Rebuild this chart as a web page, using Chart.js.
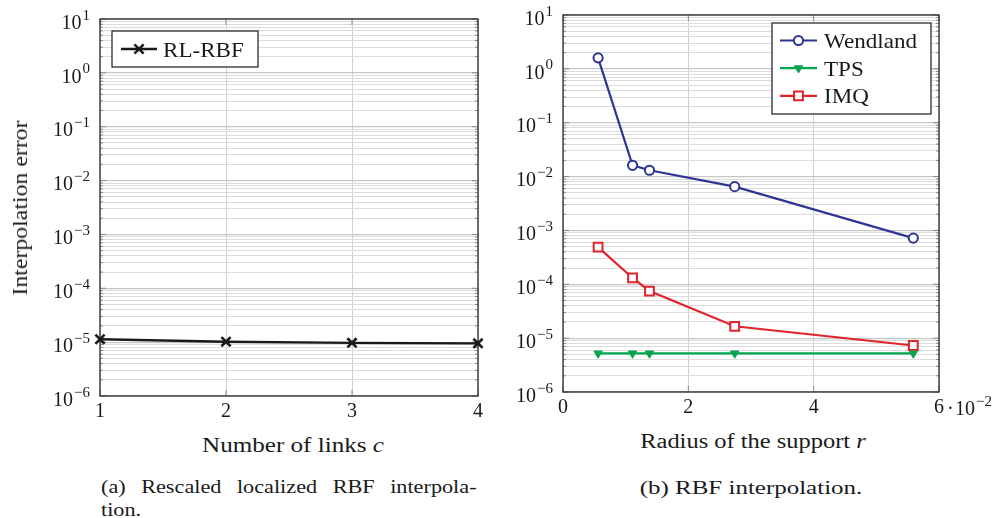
<!DOCTYPE html>
<html>
<head>
<meta charset="utf-8">
<script src="https://cdn.jsdelivr.net/npm/chart.js@4.4.1/dist/chart.umd.min.js"></script>
<style>
body { margin: 0; background: #fff; width: 999px; height: 518px; overflow: hidden; position: relative;
       font-family: "Liberation Serif", serif; color: #1a1a1a; }
.box { position: absolute; top: 0; }
.lbl { position: absolute; font-size: 20px; line-height: 1; white-space: nowrap; transform: translate(-50%, -50%); }
.cap { position: absolute; font-size: 19px; line-height: 1; white-space: nowrap; transform-origin: 0 0; transform: scaleX(1.17); }
</style>
</head>
<body>
<div class="box" style="left:0;width:500px;height:420px"><canvas id="leftChart" width="500" height="420"></canvas></div>
<div class="box" style="left:500px;width:499px;height:420px"><canvas id="rightChart" width="499" height="420"></canvas></div>

<div class="lbl" data-w="175" data-rot="1" style="left:20px;top:208px">Interpolation error</div>
<div class="lbl" data-w="182" style="left:293px;top:445px">Number of links <i>c</i></div>
<div class="lbl" data-w="225" style="left:753px;top:441px">Radius of the support <i>r</i></div>
<div class="cap" style="left:101px;top:477px;width:321px;text-align:justify;text-align-last:justify">(a) Rescaled localized RBF interpola-</div>
<div class="cap" style="left:101px;top:500px">tion.</div>
<div class="lbl" data-w="222" style="left:751px;top:487px;font-size:19px">(b) RBF interpolation.</div>

<script>
// values
var linksC = [1, 2, 3, 4];
var rlRbfError = [1.13e-5, 1.02e-5, 0.97e-5, 0.95e-5];

var radiusR = [0.0056, 0.0111, 0.0138, 0.0274, 0.0559];
var wendlandError = [1.6, 1.62e-2, 1.31e-2, 6.5e-3, 7.2e-4];
var tpsError = [5.2e-6, 5.2e-6, 5.2e-6, 5.2e-6, 5.2e-6];
var imqError = [4.9e-4, 1.31e-4, 7.5e-5, 1.66e-5, 7.3e-6];

var leftXTicks = [1, 2, 3, 4];
var rightXTicks = [0, 0.02, 0.04, 0.06];
var yExponents = [-6, -5, -4, -3, -2, -1, 0, 1];

var FONT = '"Liberation Serif", "DejaVu Serif", serif';
var INK = '#1a1a1a';

function isDecade(v) {
    var l = Math.log10(v);
    return Math.abs(l - Math.round(l)) < 1e-9;
}
function expText(e) {
    return e < 0 ? '\u2212' + (-e) : String(e);
}

// major + minor ticks for the log axis (1..9 in every decade)
var yTickValues = [];
yExponents.forEach(function (e, i) {
    if (i === yExponents.length - 1) { yTickValues.push(Math.pow(10, e)); return; }
    for (var k = 1; k <= 9; k++) yTickValues.push(k * Math.pow(10, e));
});

function pts(xs, ys) {
    return xs.map(function (x, i) { return { x: x, y: ys[i] }; });
}

// "10" with a raised exponent, right edge at x, main baseline at y
function drawPow(ctx, x, y, exp, alignLeft) {
    ctx.font = '15px ' + FONT;
    var sup = expText(exp), sw = ctx.measureText(sup).width;
    ctx.font = '20px ' + FONT;
    var bw = ctx.measureText('10').width;
    var left = alignLeft ? x : x - sw - bw - 1;
    ctx.textAlign = 'left';
    ctx.textBaseline = 'alphabetic';
    ctx.fillText('10', left, y);
    ctx.font = '15px ' + FONT;
    ctx.fillText(sup, left + bw + 1, y - 9.2);
}

function yScale(width) {
    return {
        type: 'logarithmic',
        min: Math.pow(10, yExponents[0]),
        max: Math.pow(10, yExponents[yExponents.length - 1]),
        afterBuildTicks: function (s) { s.ticks = yTickValues.map(function (v) { return { value: v }; }); },
        afterFit: function (s) { s.width = width; },
        border: { display: false },
        grid: {
            drawTicks: false,
            color: function (c) { return c.tick && isDecade(c.tick.value) ? '#c6c6c6' : '#dcdcdc'; },
            lineWidth: function (c) { return c.tick && isDecade(c.tick.value) ? 1.2 : 1; }
        },
        ticks: { display: false, autoSkip: false }
    };
}

function xScale(min, max, tickVals, height, fmt) {
    return {
        type: 'linear',
        min: min,
        max: max,
        afterBuildTicks: function (s) { s.ticks = tickVals.map(function (v) { return { value: v }; }); },
        afterFit: function (s) { s.height = height; },
        border: { display: false },
        grid: { drawTicks: false, color: '#d2d2d2' },
        ticks: { padding: 4, color: INK, font: { family: FONT, size: 20 }, callback: fmt }
    };
}

// frame round the plot and the little inward tick marks
var framePlugin = {
    id: 'frame',
    beforeDatasetsDraw: function (chart) {
        var a = chart.chartArea, ctx = chart.ctx, ys = chart.scales.y, xs = chart.scales.x;
        ctx.save();
        ctx.strokeStyle = '#8a8a8a';
        ctx.lineWidth = 1;
        ys.ticks.forEach(function (t) {
            var p = ys.getPixelForValue(t.value), len = isDecade(t.value) ? 6 : 3;
            ctx.beginPath();
            ctx.moveTo(a.left, p); ctx.lineTo(a.left + len, p);
            ctx.moveTo(a.right, p); ctx.lineTo(a.right - len, p);
            ctx.stroke();
        });
        xs.ticks.forEach(function (t) {
            var p = xs.getPixelForValue(t.value);
            ctx.beginPath();
            ctx.moveTo(p, a.bottom); ctx.lineTo(p, a.bottom - 6);
            ctx.moveTo(p, a.top); ctx.lineTo(p, a.top + 6);
            ctx.stroke();
        });
        ctx.strokeStyle = '#2a2a2a';
        ctx.lineWidth = 1.3;
        ctx.strokeRect(a.left, a.top, a.width, a.height);
        ctx.restore();
    }
};

// y tick labels 10^n, and the "·10^-2" multiplier on the x axis
var powLabels = {
    id: 'powLabels',
    afterDraw: function (chart, args, o) {
        var ctx = chart.ctx, ys = chart.scales.y, xs = chart.scales.x, a = chart.chartArea;
        ctx.save();
        ctx.fillStyle = INK;
        ys.ticks.forEach(function (t) {
            if (!isDecade(t.value)) return;
            drawPow(ctx, a.left - 10, ys.getPixelForValue(t.value) + 9.7, Math.round(Math.log10(t.value)), false);
        });
        if (o.multExp) {
            ctx.font = '20px ' + FONT;
            var x0 = xs.getPixelForValue(o.at) + ctx.measureText(o.after).width / 2 + 3;
            var base = xs.top + 23;
            ctx.textAlign = 'left';
            ctx.textBaseline = 'alphabetic';
            ctx.fillText('\u00B7', x0, base);
            drawPow(ctx, x0 + 8, base, o.multExp, true);
        }
        ctx.restore();
    }
};

// pgfplots style legend: boxed, line with marker, inside the plot
var boxLegend = {
    id: 'boxLegend',
    afterDraw: function (chart, args, o) {
        var a = chart.chartArea, ctx = chart.ctx;
        var bx = o.right ? a.right - o.dx - o.w : a.left + o.dx;
        var by = a.top + o.dy;
        ctx.save();
        ctx.fillStyle = '#fff';
        ctx.fillRect(bx, by, o.w, o.h);
        ctx.strokeStyle = INK;
        ctx.lineWidth = 1.2;
        ctx.strokeRect(bx, by, o.w, o.h);
        chart.data.datasets.forEach(function (ds, i) {
            var cy = by + o.row0 + i * o.rowH;
            ctx.strokeStyle = ds.borderColor;
            ctx.lineWidth = ds.borderWidth;
            ctx.beginPath();
            ctx.moveTo(bx + o.lineX0, cy);
            ctx.lineTo(bx + o.lineX1, cy);
            ctx.stroke();
            ctx.fillStyle = ds.pointBackgroundColor;
            ctx.strokeStyle = ds.pointBorderColor;
            ctx.lineWidth = ds.pointBorderWidth;
            Chart.helpers.drawPoint(ctx, {
                pointStyle: ds.pointStyle, radius: ds.pointRadius,
                rotation: ds.pointRotation || 0, borderWidth: ds.pointBorderWidth
            }, bx + (o.lineX0 + o.lineX1) / 2, cy);
            ctx.save();
            ctx.fillStyle = INK;
            ctx.font = '21px ' + FONT;
            ctx.textAlign = 'left';
            ctx.textBaseline = 'alphabetic';
            ctx.translate(bx + o.textX, cy + 7.5);
            ctx.scale(1.1, 1);
            ctx.fillText(ds.label, 0, 0);
            ctx.restore();
        });
        ctx.restore();
    }
};

var lc = document.getElementById('leftChart').getContext('2d');
var leftChart = new Chart(lc, {
    type: 'line',
    data: {
        datasets: [{
            label: 'RL-RBF',
            data: pts(linksC, rlRbfError),
            borderColor: INK,
            borderWidth: 2.4,
            pointStyle: 'crossRot',
            pointRadius: 6.5,
            pointBorderWidth: 2.6,
            pointBorderColor: INK,
            pointBackgroundColor: INK,
            clip: false
        }]
    },
    options: {
        responsive: false,
        animation: false,
        layout: { padding: { top: 19, right: 22, bottom: 0, left: 0 } },
        scales: {
            x: xScale(1, 4, leftXTicks, 24, function (v) { return String(v); }),
            y: yScale(100)
        },
        plugins: {
            legend: { display: false },
            tooltip: { enabled: false },
            boxLegend: { right: false, dx: 12, dy: 12, w: 146, h: 36, row0: 18, rowH: 0,
                         lineX0: 9, lineX1: 45, textX: 51 },
            powLabels: { multExp: 0 }
        }
    },
    plugins: [framePlugin, boxLegend, powLabels]
});

var rc = document.getElementById('rightChart').getContext('2d');
var rightChart = new Chart(rc, {
    type: 'line',
    data: {
        datasets: [{
            label: 'Wendland',
            data: pts(radiusR, wendlandError),
            borderColor: '#2e3592',
            borderWidth: 2.2,
            pointStyle: 'circle',
            pointRadius: 4.6,
            pointBorderWidth: 2,
            pointBorderColor: '#2e3592',
            pointBackgroundColor: '#fff',
            clip: false
        }, {
            label: 'TPS',
            data: pts(radiusR, tpsError),
            borderColor: '#05a550',
            borderWidth: 2.2,
            pointStyle: 'triangle',
            pointRotation: 180,
            pointRadius: 4.8,
            pointBorderWidth: 1,
            pointBorderColor: '#05a550',
            pointBackgroundColor: '#05a550',
            clip: false
        }, {
            label: 'IMQ',
            data: pts(radiusR, imqError),
            borderColor: '#e1232b',
            borderWidth: 2.2,
            pointStyle: 'rect',
            pointRadius: 6.2,
            pointBorderWidth: 2,
            pointBorderColor: '#e1232b',
            pointBackgroundColor: '#fff',
            clip: false
        }]
    },
    options: {
        responsive: false,
        animation: false,
        layout: { padding: { top: 15, right: 60, bottom: 0, left: 0 } },
        scales: {
            x: xScale(0, 0.06, rightXTicks, 28, function (v) { return String(Math.round(v * 100)); }),
            y: yScale(63)
        },
        plugins: {
            legend: { display: false },
            tooltip: { enabled: false },
            boxLegend: { right: true, dx: 8, dy: 8, w: 159, h: 91, row0: 17.5, rowH: 27.7,
                         lineX0: 8, lineX1: 45, textX: 52 },
            powLabels: { multExp: -2, at: 0.06, after: '6' }
        }
    },
    plugins: [framePlugin, boxLegend, powLabels]
});

// stretch the html labels to the widths they have in the picture
document.querySelectorAll('[data-w]').forEach(function (el) {
    var s = parseFloat(el.dataset.w) / el.offsetWidth;
    el.style.transform = 'translate(-50%, -50%)' + (el.dataset.rot ? ' rotate(-90deg)' : '') + ' scaleX(' + s + ')';
});
</script>
</body>
</html>
